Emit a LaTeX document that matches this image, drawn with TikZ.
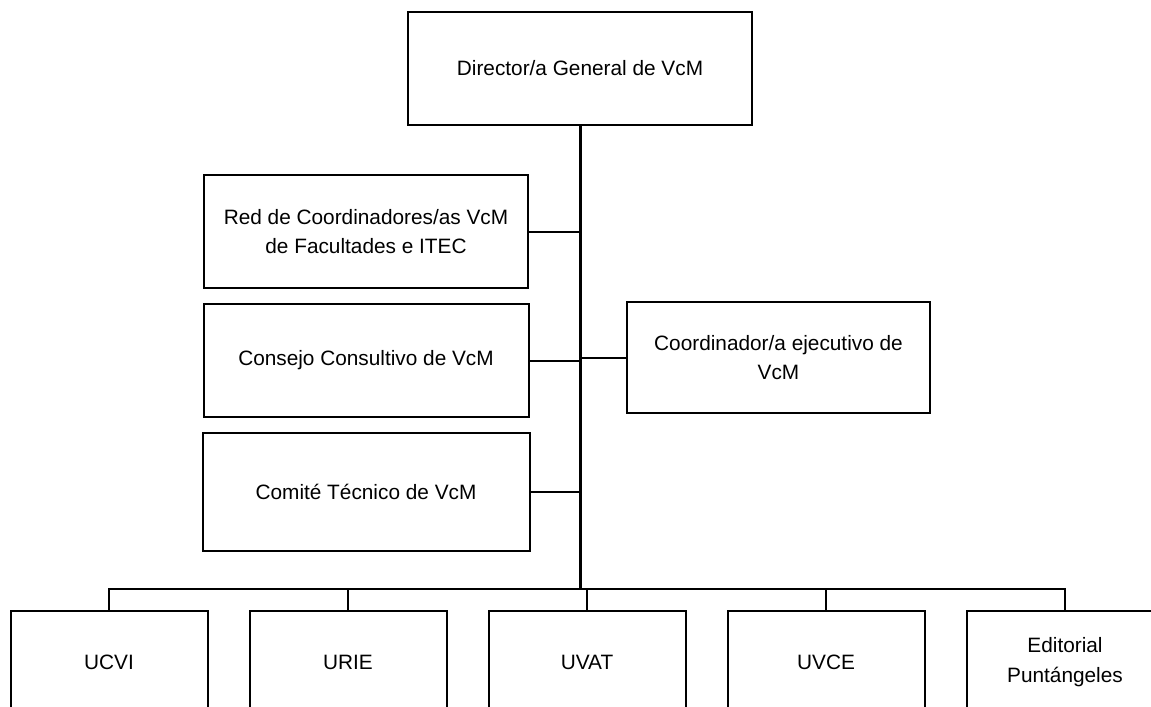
\documentclass[tikz,border=0pt]{standalone}
\usepackage{fontspec}
\setmainfont{Liberation Sans}
\usetikzlibrary{positioning}

\begin{document}
\begin{tikzpicture}[x=0.75pt,y=-0.75pt,line width=1.5pt,
  box/.style={draw,minimum height=84.75pt,align=center,font=\fontsize{15.6}{22}\selectfont},
  unit/.style={box,minimum width=147.75pt,minimum height=76.5pt}]

\useasboundingbox (0,0) rectangle (1151,706);
\clip (0,0) rectangle (1151,706);

\node[box,minimum width=258pt]    (dir) at (580,68.5) {Director/a General de VcM};
\node[box,minimum width=243pt]    (red) at (366,231.5) {Red de Coordinadores/as VcM\\de Facultades e ITEC};
\node[box,minimum width=243.75pt] (cons) [below=10.5pt of red] {Consejo Consultivo de VcM};
\node[box,minimum width=245.25pt,minimum height=88.5pt] (com) [below=10.5pt of cons] {Comit\'e T\'ecnico de VcM};
\node[box,minimum width=227.25pt,minimum height=83.25pt] (coord) at (778.5,357.5) {Coordinador/a ejecutivo de\\VcM};

\node[unit] (u1) at (109,662) {UCVI};
\node[unit] (u2) [right=30pt of u1] {URIE};
\node[unit] (u3) [right=30pt of u2] {UVAT};
\node[unit] (u4) [right=30pt of u3] {UVCE};
\node[unit] (u5) [right=30pt of u4] {Editorial\\Punt\'angeles};

\coordinate (j) at (580,589);

\draw[line width=2.25pt] (dir) -- (j);
\draw (red.east) -- (red.east -| j);
\draw (cons.east) -- (cons.east -| j);
\draw (com.east) -- (com.east -| j);
\draw (j |- coord.west) -- (coord.west);

\draw (j) -| (u1.north);
\draw (j) -| (u2.north);
\draw (j) -| (u3.north);
\draw (j) -| (u4.north);
\draw (j) -| (u5.north);
\end{tikzpicture}
\end{document}
